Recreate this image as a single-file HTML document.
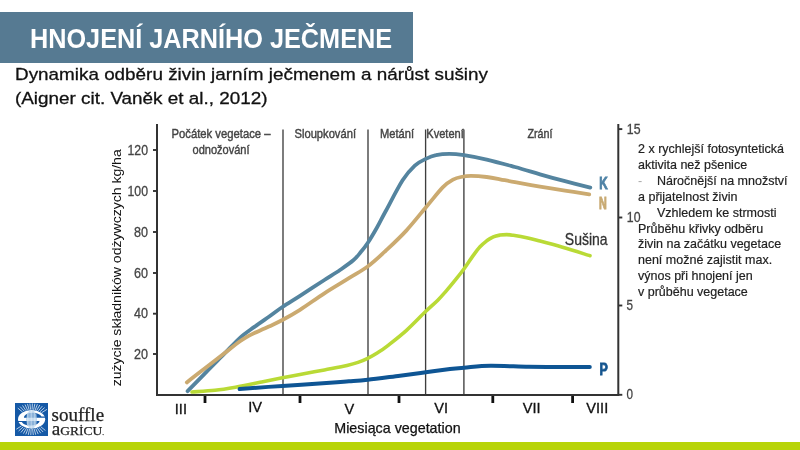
<!DOCTYPE html>
<html lang="cs">
<head>
<meta charset="utf-8">
<title>Hnojení jarního ječmene</title>
<style>
html,body{margin:0;padding:0;background:#fff;}
body{width:800px;height:450px;position:relative;overflow:hidden;font-family:"Liberation Sans",sans-serif;color:#000;}
.banner{position:absolute;left:0;top:12px;width:412.8px;height:51.3px;background:#567a92;}
.title{position:absolute;left:29.5px;top:18.6px;margin:0;font-size:28.2px;line-height:38px;font-weight:700;color:#fff;white-space:nowrap;transform-origin:0 0;transform:scaleX(0.896);}
.sub{position:absolute;left:15.2px;top:63.3px;margin:0;font-size:17.4px;line-height:23.5px;white-space:nowrap;transform-origin:0 0;transform:scaleX(1.085);color:#111;-webkit-text-stroke:0.3px #111;}
.notes{position:absolute;left:638px;top:141px;margin:0;font-size:13.2px;line-height:15.9px;white-space:nowrap;color:#222;transform-origin:0 0;transform:scaleX(0.948);-webkit-text-stroke:0.2px #222;}
.notes .ind{display:inline-block;width:20px;color:#aaa;-webkit-text-stroke:0;}
.bar{position:absolute;left:0;top:441.6px;width:800px;height:9px;background:#b8d408;}
svg{position:absolute;left:0;top:0;}
.cond{font-family:"Liberation Sans",sans-serif;fill:#444;stroke:#444;stroke-width:0.3px;}
.logo{position:absolute;left:15px;top:403.3px;width:33px;height:32.5px;background:#1559a6;overflow:hidden;}
.ltxt{position:absolute;left:51px;font-family:"Liberation Serif",serif;color:#222;white-space:nowrap;}
</style>
</head>
<body>
<div class="banner"></div>
<h1 class="title" id="title">HNOJENÍ JARNÍHO JEČMENE</h1>
<p class="sub" id="sub"><span id="sub1">Dynamika odběru živin jarním ječmenem a nárůst sušiny</span><br><span id="sub2">(Aigner cit. Vaněk et al., 2012)</span></p>

<svg width="800" height="450" viewBox="0 0 800 450">
  <!-- separators -->
  <g stroke="#3e3e3e" stroke-width="1.35">
    <line x1="283" y1="129.5" x2="283" y2="394.5"/>
    <line x1="368" y1="129.5" x2="368" y2="394.5"/>
    <line x1="425.6" y1="129.5" x2="425.6" y2="394.5"/>
    <line x1="463.9" y1="129.5" x2="463.9" y2="394.5"/>
  </g>
  <!-- curves -->
  <g fill="none" stroke-width="3.8" stroke-linecap="round" stroke-linejoin="round">
    <path stroke="#54849f" d="M187.6 391.2 C190.5 388.2 198.9 379.6 205.0 373.4 C211.1 367.1 218.6 359.6 224.4 353.7 C230.2 347.8 235.0 342.3 240.0 337.8 C245.0 333.3 249.6 330.4 254.4 326.9 C259.2 323.4 264.2 320.0 268.9 316.7 C273.6 313.4 277.2 310.5 282.4 307.0 C287.6 303.5 293.0 300.3 300.0 295.8 C307.0 291.3 317.7 284.3 324.4 280.0 C331.1 275.7 335.2 273.3 340.0 270.0 C344.8 266.7 349.8 263.3 353.3 260.3 C356.8 257.3 358.6 254.7 361.0 251.8 C363.4 248.9 365.0 247.1 367.7 243.0 C370.4 238.9 374.0 232.8 377.0 227.5 C380.0 222.2 381.2 219.4 385.5 211.5 C389.8 203.6 397.7 188.0 402.6 180.3 C407.5 172.7 410.9 169.2 414.8 165.6 C418.7 162.0 422.3 160.6 425.8 158.9 C429.3 157.2 432.1 156.0 436.0 155.2 C439.9 154.3 444.6 153.8 449.3 153.8 C454.0 153.8 457.8 154.2 464.0 155.2 C470.2 156.2 478.2 157.6 486.7 159.6 C495.2 161.6 506.1 164.6 515.0 167.0 C523.9 169.4 531.7 171.9 540.0 174.3 C548.3 176.7 556.6 179.0 565.0 181.2 C573.4 183.4 586.1 186.5 590.3 187.6"/>
    <path stroke="#cbaa70" d="M186.8 382.4 C189.8 380.0 198.7 373.1 205.0 368.3 C211.3 363.5 218.6 357.8 224.4 353.3 C230.2 348.8 236.1 344.1 240.0 341.3 C243.9 338.5 245.6 337.7 248.0 336.3 C250.4 334.9 250.9 334.6 254.4 333.0 C257.9 331.4 264.2 328.7 268.9 326.5 C273.6 324.3 277.2 322.8 282.4 320.0 C287.6 317.2 293.0 314.2 300.0 309.8 C307.0 305.4 316.2 298.6 324.4 293.3 C332.5 288.0 341.7 282.7 348.9 278.2 C356.1 273.7 361.6 271.0 367.7 266.5 C373.8 262.0 379.1 257.0 385.5 251.0 C391.9 245.0 399.4 238.1 406.3 230.6 C413.2 223.1 420.9 213.2 427.0 206.0 C433.1 198.8 438.4 191.8 442.7 187.4 C447.0 183.0 449.9 181.4 453.0 179.7 C456.1 178.0 458.0 177.6 461.0 177.0 C464.0 176.4 466.7 175.9 471.0 175.9 C475.3 175.9 481.9 176.4 486.7 177.0 C491.5 177.6 495.3 178.4 500.0 179.3 C504.7 180.2 508.3 181.0 515.0 182.2 C521.7 183.4 531.7 185.2 540.0 186.6 C548.3 188.0 556.8 189.3 565.0 190.6 C573.2 191.9 585.2 193.8 589.2 194.4"/>
    <path stroke="#b9da36" stroke-width="3.6" d="M192.0 392.0 C195.8 391.7 207.8 391.1 215.0 390.3 C222.2 389.5 228.0 388.5 235.5 387.2 C243.0 385.9 252.2 383.9 260.0 382.3 C267.8 380.7 275.7 379.1 282.4 377.8 C289.1 376.5 293.0 375.8 300.0 374.5 C307.0 373.2 316.6 371.4 324.4 369.9 C332.2 368.4 341.4 366.8 347.0 365.5 C352.6 364.2 354.6 363.6 358.0 362.4 C361.4 361.2 364.4 359.9 367.7 358.3 C371.0 356.7 374.7 354.6 378.0 352.5 C381.3 350.4 382.8 349.5 387.5 345.8 C392.2 342.1 400.2 336.0 406.5 330.3 C412.8 324.6 420.1 316.8 425.3 311.8 C430.5 306.8 434.2 303.8 437.8 300.2 C441.4 296.6 443.7 293.8 446.7 290.4 C449.7 287.0 452.7 283.3 455.6 279.7 C458.5 276.1 460.9 273.1 463.9 269.0 C466.8 264.9 470.6 259.1 473.3 255.4 C476.0 251.7 477.8 249.2 480.0 246.8 C482.2 244.4 484.5 242.5 486.7 240.8 C488.9 239.2 491.1 237.9 493.3 236.9 C495.5 235.9 497.8 235.5 500.0 235.1 C502.2 234.7 504.5 234.6 506.7 234.6 C508.9 234.6 510.0 234.8 513.3 235.3 C516.6 235.8 522.2 236.7 526.7 237.7 C531.2 238.7 534.0 239.5 540.0 241.1 C546.0 242.7 554.2 244.9 562.5 247.3 C570.8 249.7 585.4 254.3 590.0 255.7"/>
    <path stroke="#0e5594" stroke-width="4" d="M239.6 389.0 C246.7 388.5 267.3 386.9 282.4 385.9 C297.5 384.9 318.9 383.6 330.0 382.8 C341.1 382.0 342.6 381.8 348.9 381.3 C355.2 380.8 359.2 380.6 367.7 379.7 C376.2 378.8 390.3 376.9 400.0 375.7 C409.7 374.5 417.5 373.4 425.8 372.3 C434.1 371.2 443.6 369.8 450.0 369.0 C456.4 368.2 457.2 368.2 464.0 367.7 C470.8 367.2 479.7 365.9 490.5 365.8 C501.3 365.7 517.2 366.6 528.8 366.8 C540.4 367.0 549.8 366.9 560.0 366.9 C570.2 366.9 584.8 367.0 589.8 367.0"/>
  </g>
  <!-- axes -->
  <g stroke="#333" stroke-width="2" fill="none">
    <path d="M157 124 V394.9 H618.3 V124"/>
  </g>
  <g stroke="#333" stroke-width="1.9">
    <line x1="153" y1="150" x2="157" y2="150"/>
    <line x1="153" y1="191" x2="157" y2="191"/>
    <line x1="153" y1="232" x2="157" y2="232"/>
    <line x1="153" y1="273" x2="157" y2="273"/>
    <line x1="153" y1="313.7" x2="157" y2="313.7"/>
    <line x1="153" y1="354" x2="157" y2="354"/>
    <line x1="619" y1="129.1" x2="622.3" y2="129.1"/>
    <line x1="619" y1="217.5" x2="622.3" y2="217.5"/>
    <line x1="619" y1="305.5" x2="622.3" y2="305.5"/>
    <line x1="619" y1="394.8" x2="622.3" y2="394.8"/>
  </g>
  <g stroke="#111" stroke-width="2.8">
    <line x1="205" y1="396" x2="205" y2="403"/>
    <line x1="300" y1="396" x2="300" y2="403"/>
    <line x1="399" y1="396" x2="399" y2="403"/>
    <line x1="492.8" y1="396" x2="492.8" y2="403"/>
    <line x1="572.6" y1="396" x2="572.6" y2="403"/>
  </g>
  <!-- left axis labels -->
  <g class="cond" font-size="14.8" text-anchor="end">
    <text x="148" y="154.6" textLength="20.5" lengthAdjust="spacingAndGlyphs">120</text>
    <text x="148" y="195.6" textLength="20.5" lengthAdjust="spacingAndGlyphs">100</text>
    <text x="148" y="236.6" textLength="14" lengthAdjust="spacingAndGlyphs">80</text>
    <text x="148" y="277.6" textLength="14" lengthAdjust="spacingAndGlyphs">60</text>
    <text x="148" y="318.3" textLength="14" lengthAdjust="spacingAndGlyphs">40</text>
    <text x="148" y="358.6" textLength="14" lengthAdjust="spacingAndGlyphs">20</text>
  </g>
  <!-- right axis labels -->
  <g class="cond" font-size="14.8">
    <text x="626.8" y="133.9" textLength="13.7" lengthAdjust="spacingAndGlyphs">15</text>
    <text x="626.8" y="222.3" textLength="13.7" lengthAdjust="spacingAndGlyphs">10</text>
    <text x="626.6" y="310.3" textLength="6.5" lengthAdjust="spacingAndGlyphs">5</text>
    <text x="626.6" y="399.2" textLength="6.5" lengthAdjust="spacingAndGlyphs">0</text>
  </g>
  <!-- phase labels -->
  <g class="cond" font-size="13.1" style="stroke-width:0.42px">
    <text x="171.5" y="138.3" textLength="99" lengthAdjust="spacingAndGlyphs">Počátek vegetace –</text>
    <text x="192.5" y="154.4" textLength="57" lengthAdjust="spacingAndGlyphs">odnožování</text>
    <text x="294.5" y="138.3" textLength="61.5" lengthAdjust="spacingAndGlyphs">Sloupkování</text>
    <text x="380" y="138.3" textLength="34" lengthAdjust="spacingAndGlyphs">Metání</text>
    <text x="426.3" y="138.3" textLength="37.5" lengthAdjust="spacingAndGlyphs">Kvetení</text>
    <text x="527.5" y="138.3" textLength="25" lengthAdjust="spacingAndGlyphs">Zrání</text>
  </g>
  <!-- curve labels -->
  <g font-family="Liberation Sans, sans-serif" font-weight="700" font-size="16.6" stroke-width="0.95">
    <text x="599.3" y="188.5" fill="#4f83a6" stroke="#4f83a6" textLength="8.4" lengthAdjust="spacingAndGlyphs">K</text>
    <text x="599" y="208.8" fill="#c8aa73" stroke="#c8aa73" textLength="7.8" lengthAdjust="spacingAndGlyphs">N</text>
    <text x="599.4" y="375.4" font-size="17.2" fill="#15558f" stroke="#15558f" textLength="8.3" lengthAdjust="spacingAndGlyphs">P</text>
  </g>
  <text x="564.8" y="245.4" font-family="Liberation Sans, sans-serif" font-size="15.7" fill="#333" stroke="#333" stroke-width="0.3" textLength="42.8" lengthAdjust="spacingAndGlyphs">Sušina</text>
  <!-- month labels -->
  <g font-family="Liberation Sans, sans-serif" font-size="14.6" fill="#111" stroke="#111" stroke-width="0.3">
    <text x="174.8" y="413.8">III</text>
    <text x="248.3" y="412.3">IV</text>
    <text x="344.5" y="413.8">V</text>
    <text x="434.3" y="413.2">VI</text>
    <text x="522.8" y="413">VII</text>
    <text x="586.3" y="413">VIII</text>
  </g>
  <g font-family="Liberation Sans, sans-serif" font-size="13.4" fill="#111">
    <text x="334.3" y="432.9" font-size="14.1" stroke="#111" stroke-width="0.25" textLength="126.3" lengthAdjust="spacingAndGlyphs">Miesiąca vegetation</text>
    <text transform="translate(121.3 386.3) rotate(-90)" textLength="237" lengthAdjust="spacingAndGlyphs">zużycie składników odżywczych kg/ha</text>
  </g>
  <!-- logo wordmark -->
  <g font-family="Liberation Serif, serif" fill="#222" stroke="#222" stroke-width="0.25">
    <text x="51.6" y="420.9" font-size="19.4" textLength="52.5" lengthAdjust="spacingAndGlyphs">souffle</text>
    <text x="51.8" y="435.2" textLength="52.2" lengthAdjust="spacingAndGlyphs"><tspan font-size="18.5">a</tspan><tspan font-size="13">GRİCU</tspan><tspan font-size="7">.</tspan></text>
  </g>
</svg>

<p class="notes" id="notes">2 x rychlejší fotosyntetická<br>aktivita než pšenice<br><span class="ind">-</span>Náročnější na množství<br>a přijatelnost živin<br><span class="ind"> </span>Vzhledem ke strmosti<br>Průběhu křivky odběru<br>živin na začátku vegetace<br>není možné zajistit max.<br>výnos při hnojení jen<br>v průběhu vegetace</p>

<div class="logo">
<svg width="33" height="33" viewBox="0 0 33 33">
  <g stroke="#e8f1fa" stroke-width="0.75"><line x1="26.7" y1="9.7" x2="31.9" y2="6.4"/><line x1="25.0" y1="8.7" x2="29.6" y2="4.6"/><line x1="23.4" y1="7.9" x2="27.3" y2="3.1"/><line x1="21.7" y1="7.4" x2="24.8" y2="2.0"/><line x1="20.2" y1="7.0" x2="22.4" y2="1.2"/><line x1="18.6" y1="6.8" x2="19.9" y2="0.7"/><line x1="17.1" y1="6.7" x2="17.4" y2="0.5"/><line x1="15.6" y1="6.7" x2="14.9" y2="0.6"/><line x1="14.1" y1="6.9" x2="12.5" y2="0.9"/><line x1="12.5" y1="7.1" x2="10.0" y2="1.5"/><line x1="10.9" y1="7.6" x2="7.5" y2="2.4"/><line x1="9.3" y1="8.2" x2="5.1" y2="3.6"/><line x1="7.6" y1="9.0" x2="2.8" y2="5.1"/><line x1="6.5" y1="22.9" x2="1.3" y2="26.2"/><line x1="8.2" y1="23.9" x2="3.6" y2="28.0"/><line x1="9.8" y1="24.7" x2="5.9" y2="29.5"/><line x1="11.5" y1="25.2" x2="8.4" y2="30.6"/><line x1="13.0" y1="25.6" x2="10.8" y2="31.4"/><line x1="14.6" y1="25.8" x2="13.3" y2="31.9"/><line x1="16.1" y1="25.9" x2="15.8" y2="32.1"/><line x1="17.6" y1="25.9" x2="18.3" y2="32.0"/><line x1="19.1" y1="25.7" x2="20.7" y2="31.7"/><line x1="20.7" y1="25.5" x2="23.2" y2="31.1"/><line x1="22.3" y1="25.0" x2="25.7" y2="30.2"/><line x1="23.9" y1="24.4" x2="28.1" y2="29.0"/><line x1="25.6" y1="23.6" x2="30.4" y2="27.5"/></g>
  <ellipse cx="16.6" cy="16.3" rx="13.6" ry="9.2" fill="#fff"/>
  <path d="M8.9 14.7 A8.9 4.7 0 0 1 26.5 13.5 H31 V14.7 Z" fill="#1559a6"/>
  <path d="M24.6 17.9 A9.1 4.7 0 0 1 6.8 19.1 H2 V17.9 Z" fill="#1559a6"/>
  <ellipse cx="16.6" cy="16.3" rx="5.4" ry="9.3" fill="#7fb0de" opacity="0.6"/>
  <g stroke="#eef6fc" stroke-width="0.65"><line x1="12.4" y1="10.5" x2="12.4" y2="22.1"/><line x1="13.8" y1="8.3" x2="13.8" y2="24.3"/><line x1="15.2" y1="7.3" x2="15.2" y2="25.3"/><line x1="16.6" y1="7.0" x2="16.6" y2="25.6"/><line x1="18.0" y1="7.3" x2="18.0" y2="25.3"/><line x1="19.4" y1="8.3" x2="19.4" y2="24.3"/><line x1="20.8" y1="10.5" x2="20.8" y2="22.1"/></g>
</svg>
</div>
<div class="bar"></div>
</body>
</html>
